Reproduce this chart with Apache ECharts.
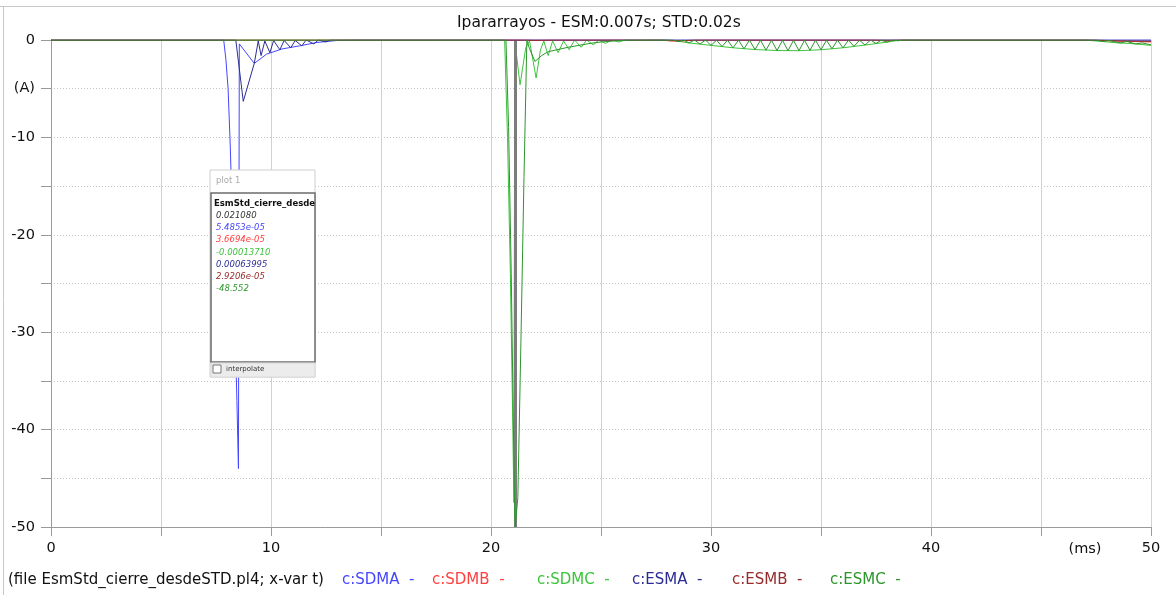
<!DOCTYPE html>
<html>
<head>
<meta charset="utf-8">
<script src="https://cdn.jsdelivr.net/npm/echarts@6/dist/echarts.min.js"></script>
<style>
  html, body { margin: 0; padding: 0; background: #fff; }
  #chart { width: 1176px; height: 595px; }
</style>
</head>
<body>
<div id="chart"></div>
<script>
// Arrester currents (A) versus time (ms), pairs of [t, i]
const sdma = [[0,0],[7.85,0],[7.95,-2],[8.05,-5],[8.15,-11],[8.25,-19],[8.35,-28],[8.45,-37],[8.52,-44],[8.56,-0.4],
  [9.24,-2.4],[9.8,-1.45],[10.5,-0.92],[11.3,-0.6],[12.1,-0.25],[13,-0.05],[14,0],[21.08,0.000054853],[50,0]];
const sdmb = [[0,0],[21.08,0.000036694],[27.8,0],[28.2,-0.12],[28.8,-0.08],[29.5,0],[37.5,0],[37.9,-0.1],[38.3,-0.05],[38.8,0],
  [47,0],[48,-0.08],[49,-0.15],[50,-0.2]];
const sdmc = [[0,0],[20.62,0],[20.75,-10],[20.88,-24],[20.98,-38],[21.04,-47.5],[21.08,-0.0001371],[21.32,-4.6],[21.58,-0.8],
  [21.75,-0.1],[22.05,-3.9],[22.25,-1.0],[22.4,-0.1],[22.6,-1.6],[22.8,-0.1],[23.05,-1.3],[23.3,-0.1],[23.55,-1.0],[23.8,0],
  [24.1,-0.75],[24.35,0],[24.65,-0.5],[24.9,0],[25.2,-0.35],[25.5,0],[25.8,-0.2],[26.1,0],[26.5,-0.05],[27.5,0],
  [28.3,-0.05],[29,-0.3],[30,-0.55],[31,-0.8],[32,-0.98],[33,-1.08],[34,-1.1],[35,-1.0],[36,-0.8],[37,-0.52],[38,-0.22],
  [38.6,0],[47,0],[47.5,-0.1],[48,-0.2],[48.5,-0.3],[49,-0.35],[49.5,-0.45],[50,-0.55]];
const esma = [[0,0],[8.4,0],[8.74,-6.3],[9.24,-2.4],[9.42,-0.1],[9.55,-1.6],[9.72,-0.1],[9.95,-1.3],[10.12,-0.05],[10.4,-1.0],
  [10.6,-0.05],[10.9,-0.8],[11.1,-0.05],[11.4,-0.6],[11.6,0],[11.95,-0.4],[12.15,0],[12.5,-0.2],[12.7,0],[21.08,0.00063995],[50,0]];
const esmb = [[0,0],[21.08,0.000029206],[21.5,0],[22,-0.05],[23,0],[28,0],[28.5,-0.1],[29.2,0],[47.5,0],[48.5,-0.1],[50,-0.15]];
const esmc = [[0,0],[20.68,0],[20.8,-9],[20.92,-24],[21.02,-40],[21.08,-48.552],[21.1,-50],[21.22,-47],[21.36,-31],[21.5,-14],
  [21.63,0],[21.75,-0.9],[22.0,-2.2],[22.3,-1.6],[22.6,-1.2],[23,-1.0],[23.5,-0.75],[24,-0.55],[24.5,-0.35],[25,-0.2],[25.6,-0.1],
  [26.3,0],[28.3,0],[28.5,-0.15],[28.75,0],[29,-0.3],[29.25,0],[29.5,-0.42],[29.75,0],[30,-0.55],[30.25,-0.02],[30.5,-0.67],
  [30.75,-0.02],[31,-0.8],[31.25,-0.02],[31.5,-0.9],[31.75,-0.02],[32,-0.98],[32.25,-0.03],[32.5,-1.04],[32.75,-0.03],
  [33,-1.08],[33.25,-0.03],[33.5,-1.1],[33.75,-0.03],[34,-1.1],[34.25,-0.03],[34.5,-1.06],[34.75,-0.03],[35,-1.0],
  [35.25,-0.03],[35.5,-0.9],[35.75,-0.02],[36,-0.8],[36.25,-0.02],[36.5,-0.66],[36.75,-0.02],[37,-0.52],[37.25,0],
  [37.5,-0.36],[37.75,0],[38,-0.22],[38.25,0],[38.5,-0.08],[38.75,0],[47.5,0],[47.8,-0.15],[48.1,-0.05],[48.6,-0.3],
  [48.9,-0.15],[49.3,-0.4],[49.6,-0.3],[50,-0.5]];

const seriesNames = ['c:SDMA', 'c:SDMB', 'c:SDMC', 'c:ESMA', 'c:ESMB', 'c:ESMC'];
const seriesColors = ['#4646ff', '#ff4040', '#3cc43c', '#2c2c96', '#962c2c', '#2c962c'];
const seriesData = [sdma, sdmb, sdmc, esma, esmb, esmc];

const cursorT = 21.08;            // ms
const xTicks = [0, 10, 20, 30, 40, 50];
const yTicks = [0, -10, -20, -30, -40, -50];

const FONT = 'DejaVu Sans';

// value readout format: 5 significant digits, exponent form below 1e-4
function fmt(v) {
  if (v !== 0 && Math.abs(v) < 1e-4) {
    const s = v.toExponential(4);
    return s.replace(/e([+-])(\d)$/, 'e$10$2');
  }
  return v.toPrecision(5);
}
function valueAt(data, t) {
  const p = data.find(d => d[0] === t);
  return p ? p[1] : 0;
}

const chart = echarts.init(document.getElementById('chart'), null, { renderer: 'canvas' });

const series = seriesData.map((d, i) => ({
  name: seriesNames[i],
  type: 'line',
  data: d,
  showSymbol: false,
  symbol: 'none',
  lineStyle: { width: 1, color: seriesColors[i] },
  itemStyle: { color: seriesColors[i] },
  z: 2 + i
}));
series[5].markLine = {
  silent: true,
  symbol: ['none', 'none'],
  label: { show: false },
  lineStyle: { color: '#7c7c7c', width: 3, type: 'solid' },
  data: [{ xAxis: cursorT }]
};

// readout panel
const px = 210, py = 170, pw = 105, ph = 207;
const readout = [{ text: fmt(cursorT / 1000), color: '#333333' }].concat(
  seriesData.map((d, i) => ({ text: fmt(valueAt(d, cursorT)), color: seriesColors[i] }))
);
const PZ = 100;
const panel = [
  { type: 'rect', z: PZ, shape: { x: px, y: py, width: pw, height: ph }, style: { fill: '#ffffff', stroke: '#cfcfcf', lineWidth: 1 } },
  { type: 'text', z: PZ + 1, x: px + 6, y: py + 11, style: { text: 'plot 1', fill: '#ababab', font: '8.5px "' + FONT + '"', textVerticalAlign: 'middle' } },
  { type: 'rect', z: PZ + 1, shape: { x: px + 1, y: py + 23, width: pw - 1, height: 169 }, style: { fill: '#ffffff', stroke: '#6c6c6c', lineWidth: 1.5 } },
  { type: 'rect', z: PZ + 1, shape: { x: px + 1, y: py + 193, width: pw - 1, height: 14 }, style: { fill: '#ececec', stroke: '#d8d8d8', lineWidth: 1 } },
  { type: 'rect', z: PZ + 2, shape: { x: px + 3, y: py + 195, width: 8, height: 8 }, style: { fill: '#ffffff', stroke: '#777777', lineWidth: 1 } },
  { type: 'text', z: PZ + 2, x: px + 16, y: py + 199.5, style: { text: 'interpolate', fill: '#333333', font: '7px "' + FONT + '"', textVerticalAlign: 'middle' } },
  { type: 'text', z: PZ + 2, x: px + 4, y: py + 34, style: { text: 'EsmStd_cierre_desde', fill: '#111111', font: 'bold 8.5px "' + FONT + '"', textVerticalAlign: 'middle' } }
];
readout.forEach((r, i) => {
  panel.push({
    type: 'text', z: PZ + 2, x: px + 6, y: py + 46 + i * 12.1,
    style: { text: r.text, fill: r.color, font: 'italic 8.5px "' + FONT + '"', textVerticalAlign: 'middle' }
  });
});

// file / variable caption along the bottom
const captionParts = [
  { text: '(file EsmStd_cierre_desdeSTD.pl4; x-var t)', color: '#111111', x: 8 }
].concat(seriesNames.map((n, i) => ({ text: n + '  -', color: seriesColors[i], x: [342, 432, 537, 632, 732, 830][i] })));
const caption = captionParts.map(c => ({
  type: 'text', x: c.x, y: 580,
  style: { text: c.text, fill: c.color, font: '15px "' + FONT + '"', textVerticalAlign: 'middle' }
}));

chart.setOption({
  animation: false,
  backgroundColor: '#ffffff',
  title: {
    text: 'Ipararrayos - ESM:0.007s; STD:0.02s',
    left: 452, top: 10,
    textStyle: { fontFamily: FONT, fontSize: 15.5, fontWeight: 'normal', color: '#111111' }
  },
  grid: { left: 51, right: 25, top: 40, bottom: 68, containLabel: false },
  xAxis: {
    type: 'value', min: 0, max: 50, interval: 5,
    axisLine: { show: true, onZero: false, lineStyle: { color: '#9a9a9a', width: 1 } },
    axisTick: { show: true, length: 9, lineStyle: { color: '#9a9a9a' } },
    axisLabel: {
      margin: 14, fontFamily: FONT, fontSize: 14.5, color: '#111111',
      formatter: v => (xTicks.indexOf(v) >= 0 ? String(v) : '')
    },
    splitLine: { show: true, lineStyle: { color: '#d0d0d0', width: 1, type: 'solid' } }
  },
  yAxis: {
    type: 'value', min: -50, max: 0, interval: 5,
    axisLine: { show: true, onZero: false, lineStyle: { color: '#9a9a9a', width: 1 } },
    axisTick: { show: true, length: 10, lineStyle: { color: '#9a9a9a' } },
    axisLabel: {
      margin: 16, fontFamily: FONT, fontSize: 14.5, color: '#111111',
      formatter: v => (yTicks.indexOf(v) >= 0 ? String(v) : (v === -5 ? '(A)' : ''))
    },
    splitLine: { show: true, lineStyle: { color: '#c4c4c4', width: 1, type: [1, 2] } }
  },
  series: series,
  graphic: [
    { type: 'line', shape: { x1: 0, y1: 6.5, x2: 1176, y2: 6.5 }, style: { stroke: '#c8c8c8', lineWidth: 1 } },
    { type: 'line', shape: { x1: 3.5, y1: 6, x2: 3.5, y2: 595 }, style: { stroke: '#c8c8c8', lineWidth: 1 } },
    { type: 'text', x: 1085, y: 549, style: { text: '(ms)', fill: '#111111', font: '14.5px "' + FONT + '"', textAlign: 'center', textVerticalAlign: 'middle' } }
  ].concat(panel, caption)
});
</script>
</body>
</html>
